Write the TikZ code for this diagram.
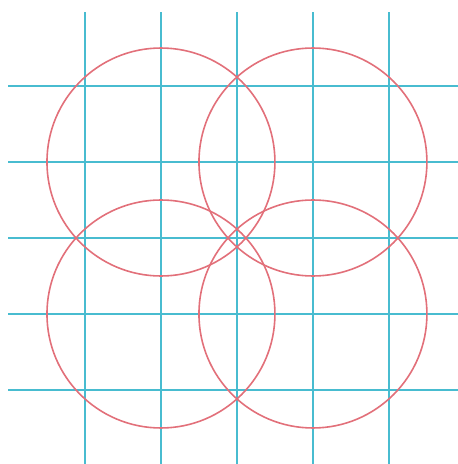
\documentclass[tikz,border=0pt]{standalone}
\usepackage{xcolor}
\definecolor{gridCyan}{RGB}{72,188,208}
\definecolor{ringRed}{RGB}{226,112,122}
\usetikzlibrary{calc}

\begin{document}
\begin{tikzpicture}[
          gridline/.style={draw=gridCyan, line width=0.6pt},
          ring/.style={draw=ringRed, line width=0.6pt}
        ]
          \useasboundingbox (-3.118,-2.974) rectangle (2.908,3.132);
          % grid
          \foreach \k in {-2,...,2} {
            \draw[gridline] (\k,2.97) -- (\k,-2.974);
            \draw[gridline] (-3.01,\k) -- (2.908,\k);
          }
          % circle centres
          \coordinate (tl) at (-1,1);
          \coordinate (tr) at (1,1);
          \coordinate (bl) at (-1,-1);
          \coordinate (br) at (1,-1);
          \draw[ring] (tl) circle (1.5);
          \draw[ring] (tr) circle (1.5);
          \draw[ring] (bl) circle (1.5);
          \draw[ring] (br) circle (1.5);
        \end{tikzpicture}
\end{document}
